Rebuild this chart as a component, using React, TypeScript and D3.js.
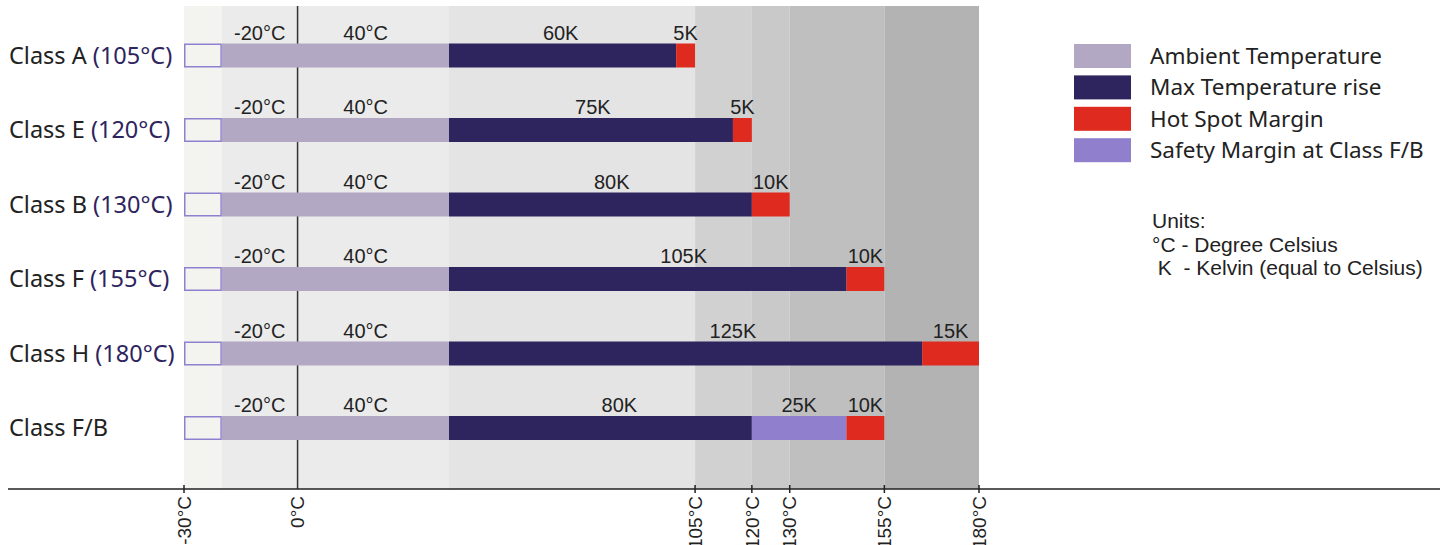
import React from "react";
import * as d3 from "d3";

// ---- data ----
const classes = ["Class A", "Class E", "Class B", "Class F", "Class H", "Class F/B"];
const ratings = ["(105°C)", "(120°C)", "(130°C)", "(155°C)", "(180°C)", ""];
const ambientLow = -20;
const ambientHigh = 40;
const coldStart = -30;
const riseK = [60, 75, 80, 105, 125, 80];
const safetyK = [0, 0, 0, 0, 0, 25];
const hotSpotK = [5, 5, 10, 10, 15, 10];
// annotation anchors (°C) for the rise labels, as placed in the original
const riseLabelAt = [69.5, 78, 83, 102, 115, 85];
const ambientLabelAt = [-10, 18];
const ambientLabels = ["-20°C", "40°C"];
const axisTicks = [-30, 0, 105, 120, 130, 155, 180];
const zoneEdges = [-30, -20, 40, 105, 120, 130, 155, 180];
const zoneColors = ["#f3f4f0", "#ebebeb", "#e4e4e4", "#d1d1d1", "#c9c9c9", "#bfbfbf", "#b3b3b3"];
const legendItems = ["Ambient Temperature", "Max Temperature rise", "Hot Spot Margin", "Safety Margin at Class F/B"];
const unitsLines = ["Units:", "°C - Degree Celsius", " K  - Kelvin (equal to Celsius)"];

const C_AMB = "#b3a8c4";
const C_RISE = "#2e245e";
const C_HOT = "#df2b1f";
const C_SAFE = "#8f7fcc";
const C_BOX = "#9080d0";
const legendColors = [C_AMB, C_RISE, C_HOT, C_SAFE];

const W = 1440;
const H = 545;
const AXIS_Y = 489;
const TOP_Y = 6;
const BAR_H = 24;

const LABEL_FONT = "'Liberation Sans', Arial, sans-serif";
const SANS = "'Noto Sans', sans-serif";

export default function App() {
  const x = d3.scaleLinear().domain([-30, 180]).range([184, 979]);
  const y = d3.scalePoint<string>().domain(classes).range([55.5, 428]);

  const rows = classes.map((c, i) => {
    const riseEnd = ambientHigh + riseK[i];
    const safeEnd = riseEnd + safetyK[i];
    const hotEnd = safeEnd + hotSpotK[i];
    return { c, i, riseEnd, safeEnd, hotEnd };
  });

  return (
    <svg
      width={W}
      height={H}
      viewBox={`0 0 ${W} ${H}`}
      style={{ position: "absolute", left: 0, top: 0, display: "block", background: "#fff" }}
    >
      {/* background zones */}
      {zoneColors.map((col, i) => (
        <rect
          key={"z" + i}
          x={x(zoneEdges[i])}
          y={TOP_Y}
          width={x(zoneEdges[i + 1]) - x(zoneEdges[i])}
          height={AXIS_Y - TOP_Y}
          fill={col}
        />
      ))}

      {/* zero line */}
      <line x1={x(0)} x2={x(0)} y1={TOP_Y} y2={AXIS_Y} stroke="#333" strokeWidth={1.5} />

      {rows.map(({ c, i, riseEnd, safeEnd, hotEnd }) => {
        const cy = y(c)!;
        const top = cy - BAR_H / 2;
        const lblY = top - 4;
        return (
          <g key={c}>
            {/* class label */}
            <text x={9} y={cy + 8} fontFamily={SANS} fontSize={23.5} fill="#222">
              {c}
              {ratings[i] ? (
                <tspan fill="#2e245e">{" " + ratings[i]}</tspan>
              ) : null}
            </text>
            {/* cold box */}
            <rect
              x={x(coldStart) + 0.75}
              y={top + 0.75}
              width={x(ambientLow) - x(coldStart) - 1.5}
              height={BAR_H - 1.5}
              fill="#f3f4f0"
              stroke={C_BOX}
              strokeWidth={1.5}
            />
            {/* ambient */}
            <rect x={x(ambientLow)} y={top} width={x(ambientHigh) - x(ambientLow)} height={BAR_H} fill={C_AMB} />
            {/* rise */}
            <rect x={x(ambientHigh)} y={top} width={x(riseEnd) - x(ambientHigh)} height={BAR_H} fill={C_RISE} />
            {/* safety */}
            {safetyK[i] > 0 ? (
              <rect x={x(riseEnd)} y={top} width={x(safeEnd) - x(riseEnd)} height={BAR_H} fill={C_SAFE} />
            ) : null}
            {/* hot spot */}
            <rect x={x(safeEnd)} y={top} width={x(hotEnd) - x(safeEnd)} height={BAR_H} fill={C_HOT} />

            {/* value labels */}
            {ambientLabels.map((t, k) => (
              <text
                key={t}
                x={x(ambientLabelAt[k])}
                y={lblY}
                textAnchor="middle"
                fontFamily={LABEL_FONT}
                fontSize={20}
                fill="#222"
              >
                {t}
              </text>
            ))}
            <text x={x(riseLabelAt[i])} y={lblY} textAnchor="middle" fontFamily={LABEL_FONT} fontSize={20} fill="#222">
              {riseK[i] + "K"}
            </text>
            {safetyK[i] > 0 ? (
              <text
                x={(x(riseEnd) + x(safeEnd)) / 2}
                y={lblY}
                textAnchor="middle"
                fontFamily={LABEL_FONT}
                fontSize={20}
                fill="#222"
              >
                {safetyK[i] + "K"}
              </text>
            ) : null}
            <text
              x={(x(safeEnd) + x(hotEnd)) / 2}
              y={lblY}
              textAnchor="middle"
              fontFamily={LABEL_FONT}
              fontSize={20}
              fill="#222"
            >
              {hotSpotK[i] + "K"}
            </text>
          </g>
        );
      })}

      {/* axis */}
      <line x1={8} x2={W} y1={AXIS_Y} y2={AXIS_Y} stroke="#222" strokeWidth={1.5} />
      {axisTicks.map((t) => (
        <g key={"t" + t}>
          {t !== 0 ? (
            <line x1={x(t)} x2={x(t)} y1={AXIS_Y - 4} y2={AXIS_Y + 4} stroke="#222" strokeWidth={1.5} />
          ) : null}
          <text
            transform={`translate(${x(t)},${AXIS_Y + 7}) rotate(-90)`}
            textAnchor="end"
            dy="0.35em"
            fontFamily={LABEL_FONT}
            fontSize={19}
            fill="#222"
          >
            {t + "°C"}
          </text>
        </g>
      ))}

      {/* legend */}
      {legendItems.map((t, i) => {
        const ly = 44 + i * 31.4;
        return (
          <g key={t}>
            <rect x={1074} y={ly} width={57} height={24} fill={legendColors[i]} />
            <text x={1150} y={ly + 20} fontFamily={SANS} fontSize={22.5} fill="#222">
              {t}
            </text>
          </g>
        );
      })}

      {/* units note */}
      {unitsLines.map((t, i) => (
        <text
          key={"u" + i}
          x={1152}
          y={228 + i * 23.5}
          fontFamily={LABEL_FONT}
          fontSize={21}
          fill="#222"
          style={{ whiteSpace: "pre" }}
        >
          {t}
        </text>
      ))}
    </svg>
  );
}
